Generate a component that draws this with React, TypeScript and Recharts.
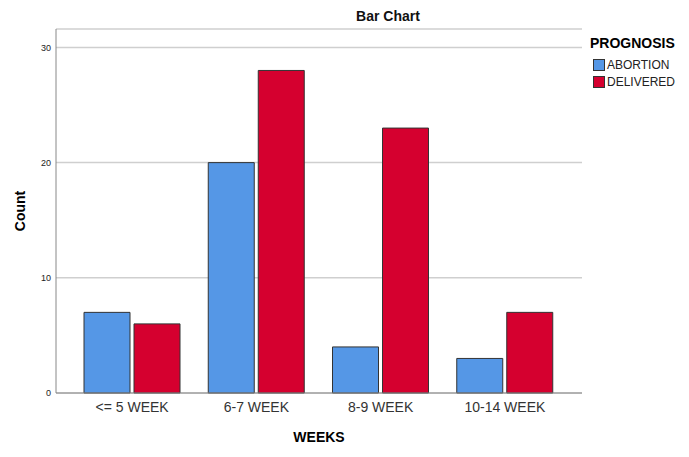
import React from 'react';
import { Bar, BarChart, CartesianGrid, Label, XAxis, YAxis } from 'recharts';

const weeks = ['<= 5 WEEK', '6-7 WEEK', '8-9 WEEK', '10-14 WEEK'];
const abortion = [7, 20, 4, 3];
const delivered = [6, 28, 23, 7];
const yTicks = [0, 10, 20, 30];

const series = [
  { key: 'abortion', name: 'ABORTION', color: '#5597e6' },
  { key: 'delivered', name: 'DELIVERED', color: '#d5002f' },
];

const data = weeks.map((week, i) => ({ week, abortion: abortion[i], delivered: delivered[i] }));

const font = '"Liberation Sans", Arial, sans-serif';

const LegendBox: React.FC = () => (
  <div style={{ position: 'absolute', left: 590, top: 34, fontFamily: font }}>
    <div style={{ fontSize: 14, fontWeight: 'bold', color: '#000', lineHeight: '18px', marginBottom: 4 }}>PROGNOSIS</div>
    {series.map((s) => (
      <div key={s.key} style={{ display: 'flex', alignItems: 'center', height: 17, marginLeft: 3 }}>
        <span
          style={{
            width: 10,
            height: 10,
            background: s.color,
            border: '1px solid #333',
            marginRight: 2,
          }}
        />
        <span style={{ fontSize: 12, color: '#222' }}>{s.name}</span>
      </div>
    ))}
  </div>
);

export default function App() {
  return (
    <div style={{ position: 'absolute', left: 0, top: 0, width: 689, height: 457, background: '#fff' }}>
      <div
        style={{
          position: 'absolute',
          left: 0,
          width: 776,
          top: 8,
          textAlign: 'center',
          fontFamily: font,
          fontSize: 14,
          fontWeight: 'bold',
          color: '#111',
        }}
      >
        Bar Chart
      </div>
      <BarChart
        width={689}
        height={457}
        data={data}
        margin={{ top: 29, right: 107, bottom: 0, left: 0 }}
        barSize={46}
        barGap={4}
      >
        <CartesianGrid vertical={false} stroke="#cfcfcf" strokeWidth={1.5} />
        <XAxis
          dataKey="week"
          height={64}
          padding={{ left: 14, right: 15 }}
          tickLine={false}
          tickSize={0}
          tickMargin={9}
          stroke="#888"
          tick={{ fill: '#333', fontSize: 14, fontFamily: font }}
        >
          <Label
            content={() => (
              <text x={319} y={437} textAnchor="middle" dominantBaseline="central" fontFamily={font} fontSize={14} fontWeight="bold" fill="#000">
                WEEKS
              </text>
            )}
          />
        </XAxis>
        <YAxis
          width={56}
          domain={[0, 31.6]}
          ticks={yTicks}
          tickLine={false}
          tickSize={0}
          tickMargin={5}
          stroke="#888"
          tick={{ fill: '#222', fontSize: 9, fontFamily: font }}
        >
          <Label
            content={() => (
              <text x={20} y={211} transform="rotate(-90 20 211)" textAnchor="middle" dominantBaseline="central" fontFamily={font} fontSize={14} fontWeight="bold" fill="#000">
                Count
              </text>
            )}
          />
        </YAxis>
        {series.map((s) => (
          <Bar key={s.key} dataKey={s.key} name={s.name} fill={s.color} stroke="#333" strokeWidth={1} isAnimationActive={false} />
        ))}
      </BarChart>
      <LegendBox />
    </div>
  );
}
